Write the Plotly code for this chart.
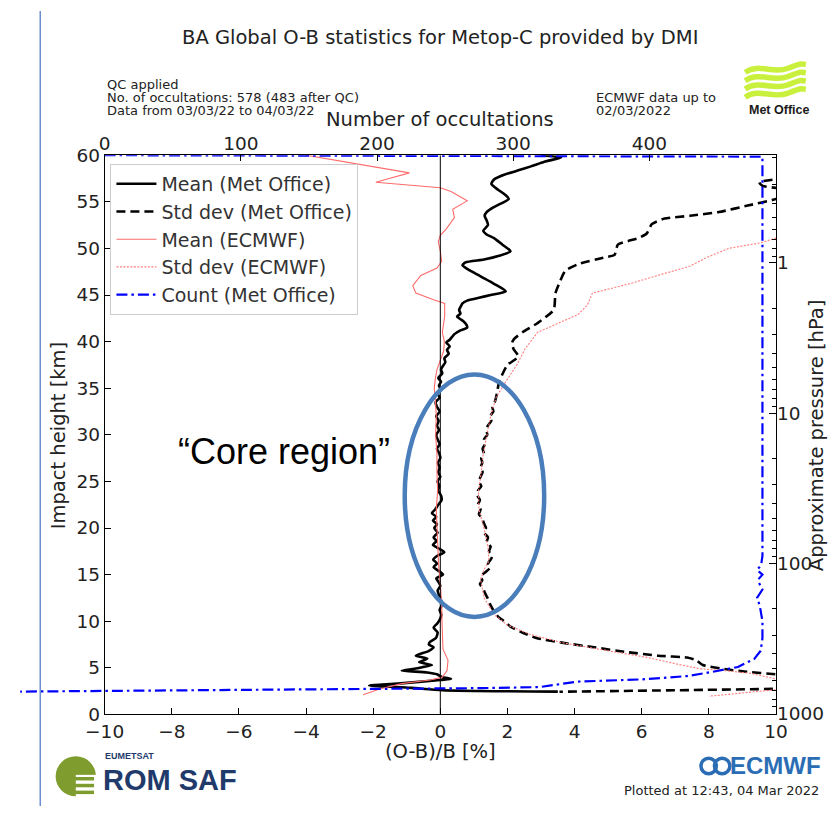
import numpy as np
import plotly.graph_objects as go

# ---------------------------------------------------------------- data
# Met Office mean O-B (percent) against impact height (km)
mo_mean_km = [60.0, 59.75, 59.3, 58.8, 58.4, 57.9, 57.4, 56.9, 56.3, 55.7, 55.3, 54.8, 54.4, 53.9,
              53.5, 53.0, 52.5, 51.9, 51.5, 51.1, 50.4, 49.7, 49.2, 48.8, 48.5, 48.2, 47.8, 47.3,
              46.9, 46.2, 45.4, 45.0, 44.7, 44.4, 44.1, 43.7, 43.4, 43.0, 42.7, 42.4, 42.2, 41.8,
              41.5, 41.2, 40.8, 40.5, 40.2, 39.9, 39.5, 39.1, 38.7, 38.2, 37.8, 37.4, 37.0, 36.6,
              36.1, 35.7, 35.3, 34.9, 34.4, 34.0, 33.5, 33.0, 32.5, 32.0, 31.5, 31.0, 30.5, 30.0,
              29.5, 29.0, 28.5, 28.0, 27.5, 27.0, 26.5, 26.0, 25.5, 25.0, 24.5, 24.0, 23.5, 23.0,
              22.5, 22.0, 21.6, 21.2, 20.8, 20.4, 20.0, 19.5, 19.0, 18.6, 18.2, 17.8, 17.4, 17.0,
              16.6, 16.2, 15.8, 15.4, 15.0, 14.6, 14.2, 13.8, 13.3, 12.8, 12.3, 11.7, 11.2, 10.7,
              10.3, 9.8, 9.3, 8.8, 8.2, 7.8, 7.5, 7.2, 6.8, 6.3, 6.0, 5.8, 5.6, 5.3, 5.1, 4.9,
              4.7, 4.5, 4.3, 4.0, 3.8, 3.7, 3.3, 3.1, 2.85, 2.6, 2.45]
mo_mean_pct = [3.0, 3.6, 3.1, 2.7, 2.35, 1.9, 1.6, 1.52, 1.72, 1.95, 2.04, 1.8, 1.58, 1.38,
               1.32, 1.38, 1.42, 1.28, 1.38, 1.6, 1.85, 2.09, 1.75, 1.3, 0.75, 0.66, 0.8, 1.05,
               1.25, 1.6, 1.95, 1.5, 1.15, 0.8, 0.66, 0.6, 0.56, 0.6, 0.5, 0.6, 0.68, 0.78,
               0.8, 0.6, 0.42, 0.35, 0.28, 0.18, 0.28, 0.2, 0.25, 0.12, 0.15, 0.08, 0.02, 0.06,
               -0.06, 0.02, -0.04, 0.0, -0.08, -0.02, -0.14, -0.1, -0.02, -0.12, -0.05, -0.1, -0.04, -0.12,
               -0.08, -0.02, -0.1, -0.03, 0.0, -0.07, -0.02, -0.06, 0.0, -0.08, -0.03, -0.06, 0.02, 0.04,
               -0.06, -0.15, -0.25, -0.12, -0.22, -0.1, -0.18, -0.08, -0.2, -0.12, -0.22, -0.05, 0.12, -0.1,
               -0.21, -0.1, -0.2, -0.05, 0.08, -0.12, -0.05, 0.0, -0.08, -0.04, 0.02, 0.04, -0.02, 0.03,
               0.0, -0.08, -0.2, -0.08, -0.13, -0.3, -0.34, -0.2, -0.35, -0.73, -0.39, -0.5, -0.63, -0.25, -0.5, -0.77,
               -1.15, -0.39, -0.1, 0.06, 0.32, 0.0, -1.26, -2.12, -0.87, 0.06, 3.5]

# Met Office standard deviation of O-B (percent)
mo_std_km = [60.0, 58.5, 57.6, 57.1, 56.7, 56.2, 55.3, 54.6, 53.9, 53.5, 53.2, 52.6, 51.6, 51.1,
             50.4, 49.3, 49.0, 48.3, 47.6, 46.5, 45.2, 43.4, 42.0, 41.0, 40.3, 39.9, 39.2, 38.4,
             37.5, 36.5, 35.7, 34.7, 34.0, 33.5, 33.0, 32.5, 32.0, 31.5, 31.0, 30.5, 30.0, 29.5,
             29.0, 28.5, 28.0, 27.5, 27.0, 26.5, 26.0, 25.5, 25.0, 24.5, 24.0, 23.5, 23.0, 22.5,
             22.0, 21.5, 21.0, 20.5, 20.0, 19.5, 19.0, 18.5, 18.0, 17.5, 17.0, 16.6, 16.2, 15.8,
             15.2, 14.8, 14.4, 14.0, 13.5, 13.1, 12.4, 11.7, 11.0, 10.5, 10.0, 9.4, 8.9, 8.2,
             7.7, 7.2, 6.7, 6.3, 6.1, 5.8, 5.3, 4.9, 4.6, 4.3, 3.8, 3.0, 2.75, 2.43]
mo_std_pct = [14.0, 12.0, 10.4, 9.5, 9.6, 10.6, 10.0, 9.16, 8.3, 7.44, 6.68, 6.3, 6.15, 5.9,
              5.29, 5.19, 4.86, 4.1, 3.72, 3.57, 3.43, 3.38, 2.9, 2.45, 2.2, 2.14, 2.18, 2.33,
              2.0, 1.85, 1.75, 1.7, 1.66, 1.62, 1.55, 1.58, 1.48, 1.52, 1.42, 1.37, 1.4, 1.3,
              1.33, 1.26, 1.3, 1.22, 1.25, 1.2, 1.26, 1.2, 1.15, 1.22, 1.12, 1.1, 1.18, 1.12,
              1.2, 1.15, 1.25, 1.3, 1.36, 1.3, 1.42, 1.38, 1.5, 1.45, 1.55, 1.5, 1.42, 1.5,
              1.32, 1.2, 1.25, 1.18, 1.28, 1.32, 1.42, 1.5, 1.61, 1.72, 1.9, 2.1, 2.38, 2.86,
              3.62, 4.58, 5.53, 6.49, 7.35, 7.63, 7.82, 8.4, 9.06, 10.0, 11.5, 12.5, 10.0, 3.55]

# ECMWF mean O-B (percent)
ec_mean_km = [60.0, 58.1, 57.4, 57.1, 56.5, 56.1, 55.1, 54.2, 53.3, 52.1, 51.4, 50.7, 49.7, 48.6,
              47.9, 47.1, 46.0, 45.2, 44.5, 44.1, 42.7, 41.0, 40.0, 39.0, 38.0, 37.0, 36.0, 35.0,
              34.0, 32.0, 30.0, 28.0, 26.0, 24.0, 22.0, 20.0, 18.0, 16.0, 14.0, 12.0, 10.0, 8.0,
              7.0, 5.8, 4.7, 4.0, 3.7, 3.3, 2.7, 2.1]
ec_mean_pct = [-4.0, -0.92, -1.63, -1.92, 0.0, 0.32, 0.8, 0.37, 0.42, 0.18, 0.0, -0.06, 0.0, 0.04,
               -0.1, -0.58, -0.82, -0.73, -0.2, 0.13, 0.13, 0.06, 0.12, 0.1, 0.0, -0.1, -0.15, -0.18,
               -0.15, -0.12, -0.14, -0.1, -0.1, -0.08, -0.12, -0.1, -0.08, -0.05, 0.0, 0.04, 0.05, 0.06,
               0.08, 0.23, 0.2, 0.06, -0.3, -1.15, -1.83, -2.3]

# ECMWF standard deviation of O-B (percent)
ec_std_km = [60.0, 51.1, 50.6, 50.0, 49.0, 48.1, 47.2, 46.2, 45.2, 43.9, 42.9, 42.0, 41.0, 39.2,
             37.5, 35.7, 34.0, 32.0, 30.0, 28.0, 26.0, 24.0, 22.0, 20.0, 18.0, 16.5, 15.5, 14.5,
             13.5, 12.4, 10.7, 9.6, 8.6, 7.7, 6.8, 6.1, 5.4, 4.9, 4.7, 4.4, 3.8, 3.2, 2.65, 1.95]
ec_std_pct = [14.0, 10.0, 9.54, 8.59, 7.92, 7.44, 6.58, 5.63, 4.53, 4.38, 4.1, 3.52, 2.9, 2.52,
              2.28, 1.95, 1.66, 1.5, 1.38, 1.28, 1.22, 1.14, 1.15, 1.3, 1.42, 1.45, 1.3, 1.2,
              1.25, 1.32, 1.61, 1.99, 2.66, 3.62, 5.04, 6.19, 7.05, 7.73, 8.48, 9.25, 10.0, 11.5, 10.0, 8.0]

# Met Office occultation count per level
count_km = [60.0, 59.85, 17.0, 16.0, 15.5, 15.0, 14.5, 14.1, 13.4, 12.5, 11.7, 10.0, 8.2, 6.83,
            5.96, 5.09, 4.56, 4.11, 3.76, 3.52, 2.93, 2.82, 2.72, 2.5, 2.45]
count_n = [0, 483, 483, 482, 479, 483, 480, 480.5, 483, 479, 481, 483, 483, 481.7,
           477, 465, 446, 427.5, 394.6, 347.5, 319, 277, 178, 0, -62]

# approximate pressure scale: isothermal atmosphere
SURFACE_HPA = 1013.25
SCALE_HEIGHT_KM = 7.0
pressure_major = [1, 10, 100, 1000]
pressure_minor = [0.2, 0.3, 0.4, 0.5, 0.6, 0.7, 0.8, 0.9, 2, 3, 4, 5, 6, 7, 8, 9,
                  20, 30, 40, 50, 60, 70, 80, 90, 200, 300, 400, 500, 600, 700, 800, 900]

pct_ticks = [-10, -8, -6, -4, -2, 0, 2, 4, 6, 8, 10]
height_ticks = [0, 5, 10, 15, 20, 25, 30, 35, 40, 45, 50, 55, 60]
count_ticks = [0, 100, 200, 300, 400]
zero_line_pct = [0, 0]
zero_line_km = [0, 60]

# ---------------------------------------------------------------- geometry
W, H = 838, 816
PL, PR, PT, PB = 88, 786, 148, 722          # plot frame, pixels
COUNT_PX_PER_UNIT = 1.416                    # top axis scale


def fx(x):
    return x / W


def fy(y):
    return 1 - y / H


def p_to_km(p):
    return SCALE_HEIGHT_KM * np.log(SURFACE_HPA / np.asarray(p, dtype=float))


FONT = "DejaVu Sans"

fig = go.Figure()
# zero reference line, drawn on the pressure axis so that axis is rendered
fig.add_trace(go.Scatter(x=zero_line_pct, y=zero_line_km, mode="lines", yaxis="y2",
                         line=dict(color="black", width=1), showlegend=False, hoverinfo="skip"))
fig.add_trace(go.Scatter(x=mo_mean_pct, y=mo_mean_km, mode="lines", name="Mean (Met Office)",
                         line=dict(color="black", width=2.6, shape="spline", smoothing=0.6)))
fig.add_trace(go.Scatter(x=mo_std_pct, y=mo_std_km, mode="lines", name="Std dev (Met Office)",
                         line=dict(color="black", width=2.6, dash="9px,5px", shape="spline", smoothing=0.5)))
fig.add_trace(go.Scatter(x=ec_mean_pct, y=ec_mean_km, mode="lines", name="Mean (ECMWF)",
                         line=dict(color="#ff6b6b", width=1.1)))
fig.add_trace(go.Scatter(x=ec_std_pct, y=ec_std_km, mode="lines", name="Std dev (ECMWF)",
                         line=dict(color="#ff7a7a", width=1.1, dash="2px,1.5px")))
fig.add_trace(go.Scatter(x=count_n, y=count_km, mode="lines", name="Count (Met Office)",
                         xaxis="x2", yaxis="y",
                         line=dict(color="#0000ff", width=2.2, dash="11px,4px,2.5px,4px")))

major_km = p_to_km(pressure_major)
minor_km = [float(h) for h in p_to_km(pressure_minor) if 0 <= h <= 60]

tickfont = dict(family=FONT, size=18.5, color="#222")
axis_common = dict(showgrid=False, zeroline=False, ticks="inside", tickcolor="black",
                   tickfont=tickfont)

fig.update_layout(
    width=W, height=H,
    margin=dict(l=0, r=0, t=0, b=0),
    paper_bgcolor="white",
    plot_bgcolor="rgba(0,0,0,0)",
    showlegend=True,
    xaxis=dict(domain=[fx(PL), fx(PR)], range=[-10, 10], tickvals=pct_ticks, ticklen=6,
               showline=True, linecolor="black", linewidth=1, mirror=True, anchor="y",
               **axis_common),
    yaxis=dict(domain=[fy(PB), fy(PT)], range=[0, 60], tickvals=height_ticks, ticklen=6,
               showline=True, linecolor="black", linewidth=1, mirror=True, anchor="x",
               **axis_common),
    xaxis2=dict(domain=[0, fx(PR)], range=[-PL / COUNT_PX_PER_UNIT, (PR - PL) / COUNT_PX_PER_UNIT],
                side="top", anchor="y", tickvals=count_ticks, ticklen=6, showline=False,
                **axis_common),
    yaxis2=dict(overlaying="y", side="right", anchor="x", range=[0, 60],
                tickvals=[max(float(h), 0.0) for h in major_km],
                ticktext=[str(p) for p in pressure_major],
                ticklen=7, showline=False,
                minor=dict(tickvals=minor_km, ticks="inside", ticklen=3.5, tickcolor="black"),
                **axis_common),
    legend=dict(x=fx(94), y=fy(157), xanchor="left", yanchor="top", itemwidth=40,
                bgcolor="rgba(255,255,255,0.85)", bordercolor="#cccccc", borderwidth=1,
                font=dict(family=FONT, size=19, color="#333")),
)

# highlighted region
fig.add_shape(type="circle", xref="paper", yref="paper",
              x0=fx(400), x1=fx(545), y0=fy(622), y1=fy(373),
              line=dict(color="#4a7ebb", width=4.5))

# slide edge line
fig.add_shape(type="line", xref="paper", yref="paper", x0=fx(21), x1=fx(21), y0=0, y1=1,
              line=dict(color="#4472c4", width=1.2))


def text(x, y, s, size, xanchor="left", family=FONT, color="#222", angle=0, bold=False):
    fig.add_annotation(x=fx(x), y=fy(y), xref="paper", yref="paper", text=f"<b>{s}</b>" if bold else s,
                       showarrow=False, xanchor=xanchor, yanchor="middle", textangle=angle,
                       font=dict(family=family, size=size, color=color))


text(437, 27, "BA Global O-B statistics for Metop-C provided by DMI", 19.5, "center")
text(88, 75, "QC applied", 13)
text(88, 89, "No. of occultations: 578 (483 after QC)", 13)
text(88, 102, "Data from 03/03/22 to 04/03/22", 13)
text(597, 89, "ECMWF data up to", 13)
text(597, 102, "02/03/2022", 13)
text(437, 111, "Number of occultations", 19.5, "center")
text(437, 760, "(O-B)/B [%]", 19.5, "center")
text(40, 435, "Impact height [km]", 19.5, "center", angle=-90)
text(828, 435, "Approximate pressure [hPa]", 19.5, "center", angle=-90)
text(274, 452, "\u201cCore region\u201d", 36, "center", family="Liberation Sans", color="black")
text(833, 800, "Plotted at 12:43, 04 Mar 2022", 13, "right")

# Met Office logo
for k in range(4):
    y0 = 58 + k * 8.5
    path = (f"M {fx(754)},{fy(y0 + 5)} C {fx(768)},{fy(y0 - 5)} {fx(782)},{fy(y0 + 7)} {fx(798)},{fy(y0 + 1)} "
            f"S {fx(811)},{fy(y0 - 4)} {fx(817)},{fy(y0 - 3)}")
    fig.add_shape(type="path", xref="paper", yref="paper", path=path,
                  line=dict(color="#c8f03c", width=5.5))
text(789, 102, "Met Office", 12.5, "center", family="Liberation Sans", color="#1a1a1a", bold=True)

# ROM SAF logo
fig.add_shape(type="circle", xref="paper", yref="paper", x0=fx(37), x1=fx(79), y0=fy(806), y1=fy(765),
              fillcolor="#7f9c2e", line=dict(width=0))
fig.add_shape(type="rect", xref="paper", yref="paper", x0=fx(58), x1=fx(81), y0=fy(807), y1=fy(784),
              fillcolor="white", line=dict(width=0))
for yy in (788, 795, 802):
    fig.add_shape(type="line", xref="paper", yref="paper", x0=fx(56), x1=fx(77), y0=fy(yy), y1=fy(yy),
                  line=dict(color="#7f9c2e", width=3.5))
text(86, 765, "EUMETSAT", 9, family="Liberation Sans", color="#1f3a6b", bold=True)
text(84, 789, "ROM SAF", 29, family="Liberation Sans", color="#1f3a6b", bold=True)

# ECMWF logo
for cx in (716, 730):
    fig.add_shape(type="circle", xref="paper", yref="paper", x0=fx(cx - 8), x1=fx(cx + 8),
                  y0=fy(783), y1=fy(767), line=dict(color="#2a6db5", width=3.5))
text(785, 774, "ECMWF", 24, "center", family="Liberation Sans", color="#2a6db5", bold=True)

fig.write_html("out.html")
